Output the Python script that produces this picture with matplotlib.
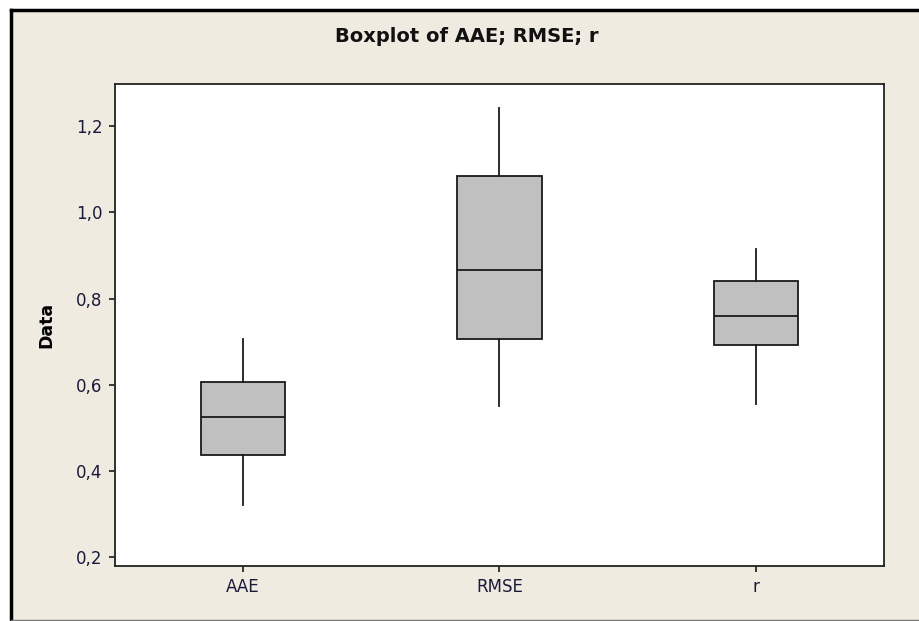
import matplotlib
matplotlib.use("Agg")
import matplotlib.pyplot as plt
from matplotlib.patches import Rectangle
from matplotlib.lines import Line2D
from matplotlib.ticker import FuncFormatter

categories = ["AAE", "RMSE", "r"]
whisker_low = [0.321, 0.551, 0.556]
q1 = [0.437, 0.707, 0.693]
median = [0.526, 0.867, 0.760]
q3 = [0.607, 1.084, 0.840]
whisker_high = [0.707, 1.242, 0.914]
yticks = [0.2, 0.4, 0.6, 0.8, 1.0, 1.2]

bg = "#EFEBE1"
fig = plt.figure(figsize=(9.2, 6.21), dpi=100, facecolor="white")
fig.patches.append(Rectangle((11/920, 1/621), 1.2, 611/621, transform=fig.transFigure,
                             facecolor=bg, edgecolor="none", zorder=-10))
fig.lines.append(Line2D([11/920, 11/920], [1/621, 611/621], transform=fig.transFigure, color="black", lw=2.5))
fig.lines.append(Line2D([11/920, 1.0], [611/621, 611/621], transform=fig.transFigure, color="black", lw=2.5))
fig.lines.append(Line2D([11/920, 1.0], [1/621, 1/621], transform=fig.transFigure, color="#777777", lw=1.0))

ax = fig.add_axes([115/920, 55/621, 769/920, 482/621])
ax.set_facecolor("white")

stats = []
for i, c in enumerate(categories):
    stats.append(dict(label=c, whislo=whisker_low[i], q1=q1[i], med=median[i],
                      q3=q3[i], whishi=whisker_high[i], fliers=[]))

ax.bxp(stats, positions=[1, 2, 3], widths=0.33, patch_artist=True, showcaps=False,
       boxprops=dict(facecolor="#C0C0C0", edgecolor="#1a1a1a", linewidth=1.3),
       medianprops=dict(color="#1a1a1a", linewidth=1.3),
       whiskerprops=dict(color="#1a1a1a", linewidth=1.3))

ax.set_xlim(0.5, 3.5)
ax.set_ylim(0.179, 1.298)
ax.set_yticks(yticks)
ax.yaxis.set_major_formatter(FuncFormatter(lambda v, p: f"{v:.1f}".replace(".", ",")))
ax.set_xticks([1, 2, 3])
ax.set_xticklabels(categories)
ax.tick_params(axis="both", direction="out", length=4, width=1.2, color="#1a1a1a",
               labelsize=12, labelcolor="#1a1a3a", pad=5)
for s in ax.spines.values():
    s.set_linewidth(1.3)
    s.set_color("#222222")

ax.set_ylabel("Data", fontsize=12.5, fontweight="bold")
ax.yaxis.set_label_coords(-0.077, 0.5)
fig.text(467/920, 1 - 37/621, "Boxplot of AAE; RMSE; r", ha="center", va="center",
         fontsize=14, fontweight="bold", color="#111111")

fig.savefig("out.png", dpi=100, facecolor=fig.get_facecolor())
